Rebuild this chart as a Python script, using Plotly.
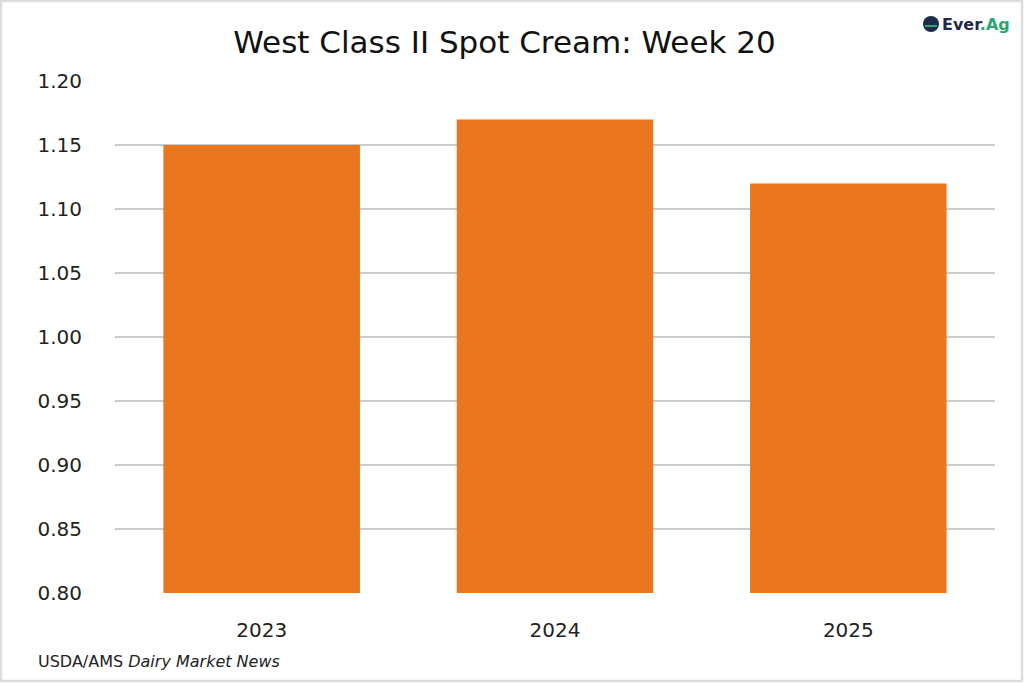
import plotly.graph_objects as go

years = ["2023", "2024", "2025"]
prices = [1.15, 1.17, 1.12]
y_ticks = [0.80, 0.85, 0.90, 0.95, 1.00, 1.05, 1.10, 1.15, 1.20]

FONT = "DejaVu Sans, sans-serif"
L, R, T, B = 115, 29, 81, 90
W, H = 1024, 683
pw, ph = W - L - R, H - T - B

def px_x(p):
    return (p - L) / pw

def px_y(p):
    return (H - B - p) / ph

fig = go.Figure(go.Bar(
    x=years, y=prices, marker_color="#EB7620", marker_line_width=0,
    width=0.67,
))

fig.update_layout(
    width=W, height=H,
    margin=dict(l=L, r=R, t=T, b=B),
    paper_bgcolor="white", plot_bgcolor="white",
    showlegend=False,
    font=dict(family=FONT, color="#222222"),
    title=dict(text="West Class II Spot Cream: Week 20", x=504.5 / W, xanchor="center",
               y=1 - 42 / H, yanchor="middle",
               font=dict(size=31, family=FONT, color="#111111")),
    xaxis=dict(showgrid=False, showline=False, ticks="",
               ticklabelstandoff=23,
               tickfont=dict(size=20, family=FONT, color="#222222")),
    yaxis=dict(range=[0.80, 1.20], tickvals=y_ticks,
               ticktext=[f"{v:.2f}" for v in y_ticks],
               showgrid=True, gridcolor="#CBCBCB", gridwidth=1.5,
               zeroline=False, showline=False, ticks="",
               ticklabelstandoff=32,
               tickfont=dict(size=20, family=FONT, color="#222222")),
)

fig.add_annotation(text="USDA/AMS <i>Dairy Market News</i>", xref="paper", yref="paper",
                   x=px_x(36), y=px_y(661), xanchor="left", yanchor="middle",
                   showarrow=False, font=dict(size=16, family=FONT, color="#222222"))

fig.add_annotation(text="<b><span style='color:#1E2A4A'>Ever</span><span style='color:#2AA775'>.Ag</span></b>",
                   xref="paper", yref="paper",
                   x=px_x(940), y=px_y(24), xanchor="left", yanchor="middle",
                   showarrow=False, font=dict(size=16, family=FONT))
fig.add_shape(type="circle", xref="paper", yref="paper",
              x0=px_x(923), x1=px_x(939), y0=px_y(32), y1=px_y(16),
              fillcolor="#1E2A4A", line=dict(width=0))
fig.add_shape(type="rect", xref="paper", yref="paper",
              x0=px_x(925), x1=px_x(937), y0=px_y(27), y1=px_y(25),
              fillcolor="#2AA775", line=dict(width=0))

fig.add_shape(type="rect", xref="paper", yref="paper",
              x0=px_x(1), x1=px_x(1022), y0=px_y(681), y1=px_y(1),
              line=dict(color="#DDDDDD", width=2.5), fillcolor="rgba(0,0,0,0)", layer="below")

fig.write_html("out.html", config={"displayModeBar": False},
               post_script="document.body.style.margin='0';")
